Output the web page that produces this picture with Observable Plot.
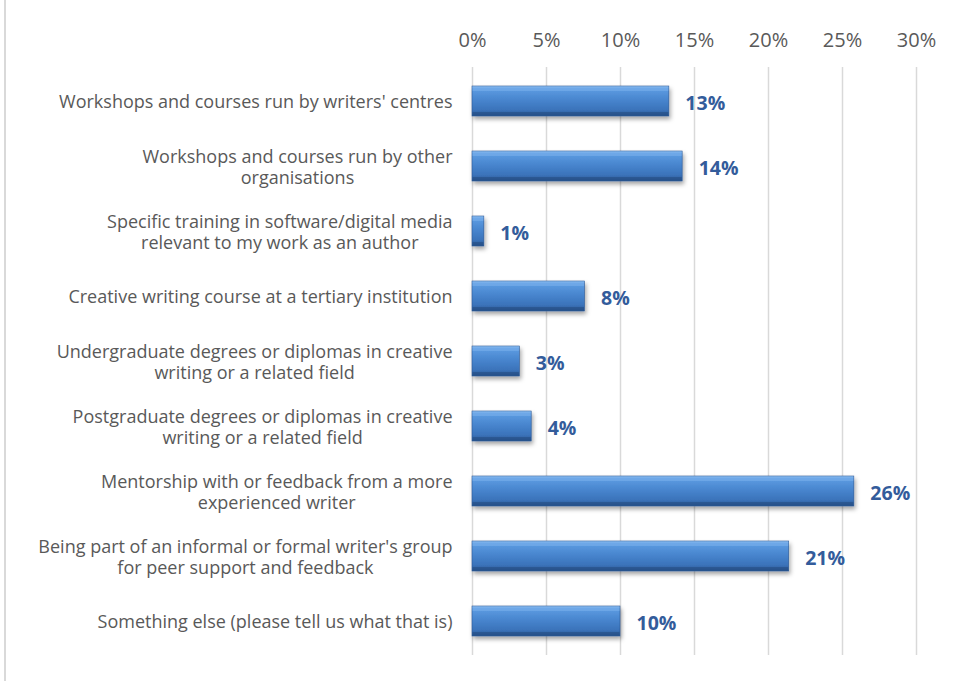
<!DOCTYPE html>
<html><head><meta charset="utf-8">
<script src="https://cdn.jsdelivr.net/npm/d3@7"></script>
<script src="https://cdn.jsdelivr.net/npm/@observablehq/plot@0.6"></script>
<style>
body{margin:0;background:#fff;}
#wrap{position:relative;width:954px;height:681px;overflow:hidden;}
#border{position:absolute;left:4px;top:0;width:2px;height:681px;background:#d9d9d9;}
#chart{position:absolute;left:0;top:0;}
</style></head><body><div id="wrap"><div id="border"></div><div id="chart"></div></div>
<script>
const categories = ["c1","c2","c3","c4","c5","c6","c7","c8","c9"];
const categoryLabels = [
  "Workshops and courses run by writers' centres",
  "Workshops and courses run by other\norganisations",
  "Specific training in software/digital media\nrelevant to my work as an author",
  "Creative writing course at a tertiary institution",
  "Undergraduate degrees or diplomas in creative\nwriting or a related field",
  "Postgraduate degrees or diplomas in creative\nwriting or a related field",
  "Mentorship with or feedback from a more\nexperienced writer",
  "Being part of an informal or formal writer's group\nfor peer support and feedback",
  "Something else (please tell us what that is)"
];
const values = [13.3, 14.2, 0.8, 7.6, 3.2, 4.0, 25.8, 21.4, 10.0];
const valueLabels = ["13%","14%","1%","8%","3%","4%","26%","21%","10%"];
const ticks = [0, 5, 10, 15, 20, 25, 30];
const tickLabels = ["0%","5%","10%","15%","20%","25%","30%"];

const FONT = "Open Sans";
const LABEL_SIZE = 18;
const data = categories.map((c, i) => ({cat: c, label: categoryLabels[i], value: values[i], vl: valueLabels[i]}));

const ctx = document.createElement("canvas").getContext("2d");
ctx.font = `${LABEL_SIZE}px "${FONT}"`;
function blockWidth(s){ return Math.max(...s.split("\n").map(l => ctx.measureText(l).width)); }

const labelMarks = data.map(d => Plot.text([d], {
  y: "cat", text: "label", frameAnchor: "left", textAnchor: "middle",
  dx: -(20 + blockWidth(d.label) / 2), lineHeight: 1.2,
  fill: "#595959", fontSize: LABEL_SIZE
}));

const chart = Plot.plot({
  width: 954, height: 681,
  marginLeft: 472, marginRight: 38, marginTop: 67, marginBottom: 26,
  style: {fontFamily: FONT, background: "transparent"},
  x: {domain: [0, 30], ticks: ticks, axis: null},
  y: {domain: categories, paddingInner: 0.54, paddingOuter: 0.27, axis: null},
  marks: [
    Plot.ruleX(ticks, {stroke: "#d9d9d9", strokeWidth: 1.5}),
    Plot.axisX(ticks, {anchor: "top", label: null, tickSize: 0, tickPadding: 21, fontSize: 20, fill: "#595959",
      tickFormat: (t) => tickLabels[ticks.indexOf(t)]}),
    Plot.barX(data, {y: "cat", x: "value", fill: "url(#barGrad)", stroke: "#2b5894", strokeWidth: 0.6}),
    Plot.barX(data, {y: "cat", x: "value", fill: "#7fb4ee", fillOpacity: 0.5, insetTop: 0.5, insetLeft: 0.5, insetRight: 0.5, insetBottom: 25}),
    Plot.barX(data, {y: "cat", x: "value", fill: "#21477c", fillOpacity: 0.5, insetTop: 26, insetLeft: 0.5, insetRight: 0.5, insetBottom: 0.5}),
    Plot.text(data, {y: "cat", x: "value", text: "vl", dx: 16, dy: 2, textAnchor: "start",
      fill: "#335c9b", fontWeight: "bold", fontSize: 19.5}),
    ...labelMarks
  ]
});

d3.select(chart).insert("defs", ":first-child").html(`
  <linearGradient id="barGrad" x1="0" y1="0" x2="0" y2="1">
    <stop offset="0" stop-color="#94c4f4"/>
    <stop offset="0.08" stop-color="#5d9ce2"/>
    <stop offset="0.5" stop-color="#4683cc"/>
    <stop offset="0.8" stop-color="#3b73ba"/>
    <stop offset="1" stop-color="#2a5792"/>
  </linearGradient>
  <filter id="shadow" x="-5%" y="-30%" width="115%" height="180%">
    <feDropShadow dx="1.5" dy="3" stdDeviation="2" flood-color="#000" flood-opacity="0.35"/>
  </filter>
`);
const barGroups = d3.select(chart).selectAll("g[aria-label='bar']");
barGroups.filter((d, i) => i === 0).attr("filter", "url(#shadow)");
document.getElementById("chart").appendChild(chart);
</script>
</body></html>
